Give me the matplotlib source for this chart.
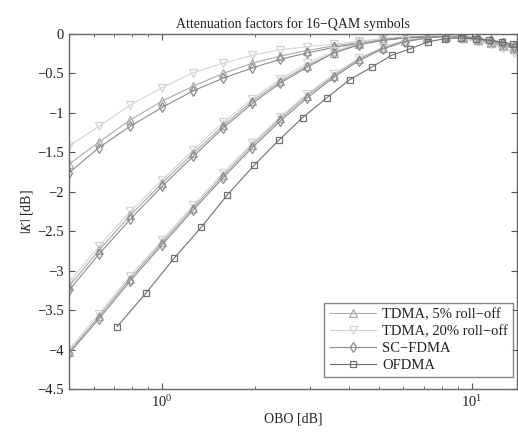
"""
Attenuation factors |K| vs OBO for 16-QAM symbols
"""

import matplotlib
matplotlib.use("Agg")
import matplotlib.pyplot as plt

""" ------------------- Data (read off the reference) ------------------- """

# OBO grid [dB] shared by the TDMA and SC-FDMA curves
obo = [0.5, 0.625, 0.788, 1.0, 1.26, 1.575, 1.955, 2.41, 2.94, 3.58,
       4.31, 5.15, 6.07, 7.15, 8.24, 9.35, 10.45, 11.5, 12.6, 13.7]

# OBO grid [dB] of the OFDMA curve
obo_ofdma = [0.715, 0.888, 1.094, 1.337, 1.623, 1.985, 2.39, 2.84, 3.40, 4.03,
             4.75, 5.51, 6.30, 7.20, 8.18, 9.21, 10.3, 11.4, 12.5, 13.6]

# three scenarios (upper, middle, lower group of curves)
tdma5 = [
  [-1.65, -1.37, -1.09, -0.85, -0.66, -0.50, -0.37, -0.28, -0.21, -0.15,
   -0.11, -0.07, -0.05, -0.04, -0.04, -0.05, -0.08, -0.11, -0.15, -0.19],
  [-3.20, -2.74, -2.30, -1.89, -1.51, -1.16, -0.85, -0.60, -0.40, -0.24,
   -0.13, -0.07, -0.04, -0.03, -0.03, -0.05, -0.07, -0.10, -0.14, -0.18],
  [-4.03, -3.58, -3.10, -2.64, -2.20, -1.79, -1.41, -1.07, -0.78, -0.53,
   -0.32, -0.18, -0.09, -0.05, -0.03, -0.04, -0.07, -0.10, -0.14, -0.18],
]
tdma20 = [
  [-1.42, -1.17, -0.90, -0.68, -0.49, -0.37, -0.27, -0.20, -0.16, -0.13,
   -0.09, -0.06, -0.04, -0.03, -0.04, -0.06, -0.09, -0.13, -0.18, -0.24],
  [-3.15, -2.69, -2.25, -1.85, -1.47, -1.12, -0.82, -0.57, -0.37, -0.22,
   -0.12, -0.06, -0.03, -0.03, -0.04, -0.06, -0.09, -0.13, -0.18, -0.23],
  [-4.00, -3.55, -3.07, -2.61, -2.17, -1.76, -1.38, -1.05, -0.76, -0.51,
   -0.31, -0.17, -0.08, -0.05, -0.04, -0.06, -0.09, -0.13, -0.18, -0.23],
]
scfdma = [
  [-1.76, -1.44, -1.17, -0.93, -0.72, -0.56, -0.43, -0.32, -0.24, -0.17,
   -0.12, -0.08, -0.05, -0.04, -0.04, -0.05, -0.07, -0.09, -0.12, -0.16],
  [-3.25, -2.79, -2.35, -1.93, -1.55, -1.19, -0.88, -0.62, -0.42, -0.24,
   -0.14, -0.08, -0.05, -0.03, -0.03, -0.04, -0.06, -0.09, -0.12, -0.16],
  [-4.05, -3.61, -3.13, -2.67, -2.23, -1.82, -1.44, -1.10, -0.81, -0.55,
   -0.34, -0.19, -0.10, -0.05, -0.03, -0.03, -0.05, -0.08, -0.12, -0.16],
]
ofdma = [-3.71, -3.28, -2.84, -2.45, -2.04, -1.66, -1.34, -1.06, -0.81, -0.58,
         -0.42, -0.27, -0.19, -0.10, -0.06, -0.05, -0.06, -0.08, -0.10, -0.13]

labels = ['TDMA, 5% roll\u2212off', 'TDMA, 20% roll\u2212off', 'SC\u2212FDMA', 'OFDMA']
yticks = [0, -0.5, -1, -1.5, -2, -2.5, -3, -3.5, -4, -4.5]

""" ------------------- Plot ------------------- """

plt.rcParams['font.family'] = ['Liberation Serif', 'DejaVu Serif']
plt.rcParams['mathtext.fontset'] = 'stix'
plt.rcParams['axes.unicode_minus'] = True

fig = plt.figure(figsize=(5.18, 4.34), dpi=100)
ax = fig.add_axes([0.1332, 0.1037, 0.865, 0.818])

c5, c20, csc, cof = '#ababab', '#d4d4d4', '#8c8c8c', '#707070'
mk = dict(markersize=5.5, markerfacecolor='none', markeredgewidth=0.9)

for i in range(3):
  ax.plot(obo, tdma20[i], '-v', color=c20, lw=0.8, label=labels[1] if i == 0 else None, **mk)
  ax.plot(obo, tdma5[i], '-^', color=c5, lw=0.8, label=labels[0] if i == 0 else None, **mk)
  ax.plot(obo, scfdma[i], '-d', color=csc, lw=0.8, label=labels[2] if i == 0 else None, **mk)
ax.plot(obo_ofdma, ofdma, '-s', color=cof, lw=0.8, label=labels[3], markersize=5,
        markerfacecolor='none', markeredgewidth=0.9)

ax.set_xscale('log')
ax.set_xlim(0.5, 14)
ax.set_ylim(-4.5, 0)
ax.set_yticks(yticks)
ax.set_yticklabels([('%g' % t).replace('-', '\u2212') for t in yticks])

ax.tick_params(which='both', direction='in', top=True, right=True,
               labelsize=10.5, colors='#555555', labelcolor='#222222')
ax.tick_params(which='major', length=4)
ax.tick_params(which='minor', length=2.5)
for s in ax.spines.values():
  s.set_color('#666666')
  s.set_linewidth(1.0)

ax.set_title('Attenuation factors for 16\u2212QAM symbols', fontsize=10, pad=4, color='#222222')
ax.set_xlabel('OBO [dB]', fontsize=10, labelpad=2, color='#222222')
ax.set_ylabel('$|K|$ [dB]', fontsize=10, labelpad=2, color='#222222')

# legend order as in the reference
h, l = ax.get_legend_handles_labels()
order = [l.index(s) for s in labels]
leg = ax.legend([h[k] for k in order], [l[k] for k in order], loc='lower right',
                bbox_to_anchor=(0.991, 0.034), fontsize=10.5, frameon=True, fancybox=False,
                borderaxespad=0, handlelength=3.2, handletextpad=0.4, labelspacing=0.25,
                borderpad=0.35)
leg.get_frame().set_edgecolor('#666666')
leg.get_frame().set_linewidth(1.0)
for t in leg.get_texts():
  t.set_color('#222222')

fig.savefig('out.png', dpi=100)
